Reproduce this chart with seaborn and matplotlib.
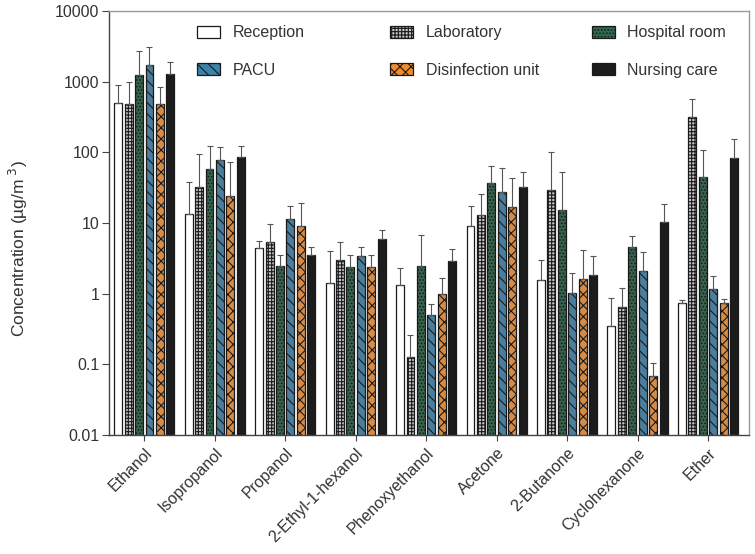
import matplotlib
matplotlib.use("Agg")
import matplotlib.pyplot as plt
import matplotlib.patches as mpatches
import numpy as np
import pandas as pd
import seaborn as sns

compounds = ["Ethanol", "Isopropanol", "Propanol", "2-Ethyl-1-hexanol", "Phenoxyethanol",
             "Acetone", "2-Butanone", "Cyclohexanone", "Ether"]
locations = ["Reception", "Laboratory", "Hospital room", "PACU",
             "Disinfection unit", "Nursing care"]

# mean concentrations (ug/m3) per location
reception = [494, 13.3, 4.38, 1.42, 1.31, 8.98, 1.55, 0.35, 0.73]
laboratory = [483, 32.6, 5.44, 2.96, 0.127, 13.1, 29.1, 0.65, 312]
hospital_room = [1242, 57.5, 2.46, 2.36, 2.44, 37.4, 15.4, 4.57, 45.2]
pacu = [1703, 78.7, 11.5, 3.44, 0.50, 27.5, 1.03, 2.09, 1.16]
disinfection_unit = [483, 24.3, 9.06, 2.36, 0.98, 17.0, 1.60, 0.069, 0.745]
nursing_care = [1283, 85.9, 3.52, 5.93, 2.93, 32.6, 1.84, 10.3, 83.2]

# upper error bars (SD)
reception_sd = [403, 25.1, 1.23, 2.55, 1.02, 8.2, 1.47, 0.52, 0.08]
laboratory_sd = [496, 63.1, 4.14, 2.37, 0.131, 12.6, 70.9, 0.54, 262]
hospital_room_sd = [1445, 64.1, 1.10, 1.20, 4.32, 27.3, 36.7, 1.98, 63.8]
pacu_sd = [1389, 40.2, 5.7, 1.18, 0.21, 31.9, 0.95, 1.79, 0.62]
disinfection_unit_sd = [366, 48.6, 10.1, 1.20, 0.70, 25.9, 2.59, 0.037, 0.095]
nursing_care_sd = [635, 35.7, 1.10, 1.95, 1.31, 19.5, 1.54, 8.3, 72.8]

means = [reception, laboratory, hospital_room, pacu, disinfection_unit, nursing_care]
sds = [reception_sd, laboratory_sd, hospital_room_sd, pacu_sd, disinfection_unit_sd, nursing_care_sd]

# bar styles: facecolor, hatch
styles = {
    "Reception": ("white", ""),
    "Laboratory": ("#c4c4c4", "+++++"),
    "Hospital room": ("#2f6b4e", "....."),
    "PACU": ("#3d82aa", "\\\\\\"),
    "Disinfection unit": ("#f08a2c", "xxx"),
    "Nursing care": ("#1c1c1c", ""),
}


def main():
    plt.rcParams["font.family"] = ["Liberation Sans", "DejaVu Sans"]
    plt.rcParams["hatch.linewidth"] = 0.8
    plt.rcParams["hatch.color"] = "#1a1a1a"

    rows = []
    for loc, vals in zip(locations, means):
        for comp, v in zip(compounds, vals):
            rows.append({"compound": comp, "location": loc, "conc": v})
    df = pd.DataFrame(rows)

    fig = plt.figure(figsize=(7.55, 5.54), dpi=100)
    ax = fig.add_axes([0.1444, 0.2148, 0.8476, 0.7653])

    palette = {k: v[0] for k, v in styles.items()}
    sns.barplot(data=df, x="compound", y="conc", hue="location", order=compounds,
                hue_order=locations, palette=palette, errorbar=None, width=0.89,
                gap=0.24, edgecolor="#1a1a1a", linewidth=0.9, legend=False, ax=ax)
    ax.set_yscale("log")

    for loc, cont, vals, sd in zip(locations, ax.containers, means, sds):
        fc, hatch = styles[loc]
        xs = []
        for p in cont.patches:
            p.set_hatch(hatch)
            xs.append(p.get_x() + p.get_width() / 2)
        ax.errorbar(xs, vals, yerr=[np.zeros(len(sd)), sd], fmt="none",
                    ecolor="#555555", elinewidth=0.8, capsize=2, capthick=0.8, zorder=1)

    ax.set_ylim(0.01, 10000)
    ax.set_xlim(-0.5, 8.58)
    ax.set_yticks([0.01, 0.1, 1, 10, 100, 1000, 10000])
    ax.set_yticklabels(["0.01", "0.1", "1", "10", "100", "1000", "10000"])
    ax.minorticks_off()
    ax.set_xlabel("")
    ax.set_ylabel("Concentration (µg/m$^{\\ 3}$)", fontsize=12.5, color="#333333")
    ax.yaxis.set_label_coords(-0.124, 0.44)
    ax.tick_params(axis="y", labelsize=11.5, labelcolor="#333333", length=5,
                   color="#444444", pad=2)
    ax.tick_params(axis="x", labelsize=11.5, labelcolor="#333333", length=4, color="#444444")
    plt.setp(ax.get_xticklabels(), rotation=45, ha="right", rotation_mode="anchor")

    for side in ["left", "bottom"]:
        ax.spines[side].set_color("#444444")
        ax.spines[side].set_linewidth(1.0)
    for side in ["top", "right"]:
        ax.spines[side].set_color("#999999")
        ax.spines[side].set_linewidth(1.0)

    # legend: three columns placed separately
    handles = [mpatches.Patch(facecolor=styles[l][0], hatch=styles[l][1],
                              edgecolor="#1a1a1a", linewidth=0.9) for l in locations]
    cols = [(0, 3, 0.137), (1, 4, 0.439), (2, 5, 0.754)]
    for k, (i, j, xpos) in enumerate(cols):
        leg = ax.legend([handles[i], handles[j]], [locations[i], locations[j]],
                        loc="upper left", bbox_to_anchor=(xpos, 0.966), frameon=False,
                        fontsize=11.5, handlelength=1.45, handleheight=0.75,
                        handletextpad=0.8, labelspacing=1.4, borderpad=0,
                        borderaxespad=0)
        for t in leg.get_texts():
            t.set_color("#333333")
        if k < len(cols) - 1:
            ax.add_artist(leg)

    fig.savefig("out.png", dpi=100)


if __name__ == "__main__":
    main()
